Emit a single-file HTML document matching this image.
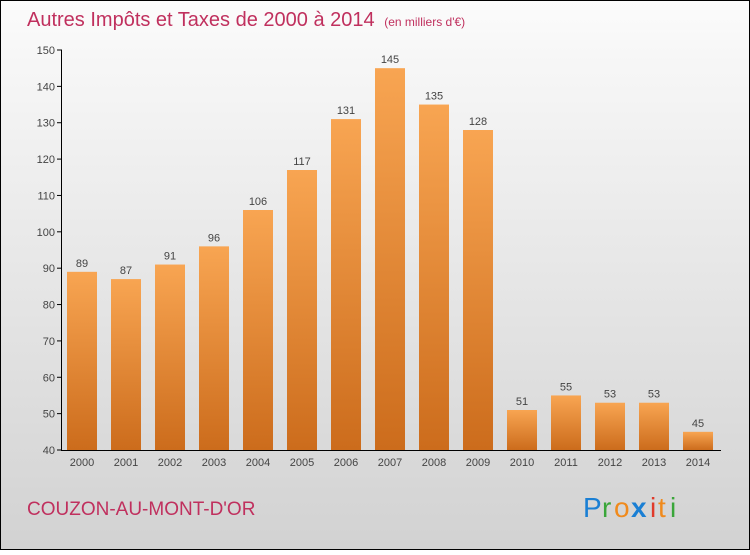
<!DOCTYPE html>
<html><head><meta charset="utf-8"><style>
body{margin:0;width:750px;height:550px;overflow:hidden;font-family:"Liberation Sans",sans-serif}
</style></head><body>
<svg width="750" height="550" xmlns="http://www.w3.org/2000/svg">
<defs>
<linearGradient id="bg" x1="0" y1="0" x2="0" y2="1"><stop offset="0" stop-color="#fbfbfb"/><stop offset="1" stop-color="#d2d2d2"/></linearGradient>
<linearGradient id="bar" x1="0" y1="0" x2="0" y2="1"><stop offset="0" stop-color="#f8a552"/><stop offset="1" stop-color="#cc6c1c"/></linearGradient>
</defs>
<rect x="0.5" y="0.5" width="749" height="549" fill="url(#bg)" stroke="#000"/>
<text x="27" y="26" font-size="20" fill="#c0305e">Autres Impôts et Taxes de 2000 à 2014 <tspan font-size="12" dx="4">(en milliers d'€)</tspan></text>
<g id="bars"></g><g id="axes"></g>
<text x="27" y="515" font-size="19" fill="#c0305e">COUZON-AU-MONT-D'OR</text>
<g font-size="28">
<text x="583" y="517" fill="#1a7fd4">P</text><text x="602" y="517" fill="#3aa63a">r</text><text x="614" y="517" fill="#f08a1c">o</text><text x="631" y="517" fill="#1a7fd4" font-weight="bold">x</text><text x="650" y="517" fill="#e03a2a">i</text><text x="658" y="517" fill="#f08a1c">t</text><text x="670" y="517" fill="#3aa63a">i</text>
</g>
</svg>
<script>
const years=["2000","2001","2002","2003","2004","2005","2006","2007","2008","2009","2010","2011","2012","2013","2014"];
const values=[89,87,91,96,106,117,131,145,135,128,51,55,53,53,45];
const yTicks=[40,50,60,70,80,90,100,110,120,130,140,150];
const NS="http://www.w3.org/2000/svg";
const y0=450,y1=50,vmin=40,vmax=150;
const yS=v=>y0-(v-vmin)/(vmax-vmin)*(y0-y1);
const xS=i=>82+44*i;
function mk(t,a,p){const e=document.createElementNS(NS,t);for(const k in a)e.setAttribute(k,a[k]);p.appendChild(e);return e;}
const bars=document.getElementById('bars'),axes=document.getElementById('axes');
yTicks.forEach(v=>{
 const t=mk('line',{x1:57,x2:62,y1:yS(v),y2:yS(v),stroke:'#000'},axes);
 
 
 const l=mk('text',{x:55,y:yS(v)+4,'text-anchor':'end','font-size':11,fill:'#444'},axes);
 l.textContent=v;
 
 
});
values.forEach((v,i)=>{
 const r=mk('rect',{x:xS(i)-15,y:yS(v),width:30,height:y0-yS(v),fill:'url(#bar)'},bars);
 
 
 const t=mk('text',{x:xS(i),y:yS(v)-5,'text-anchor':'middle','font-size':11,fill:'#444'},bars);
 t.textContent=v;
 
 
 const x=mk('text',{x:xS(i),y:466,'text-anchor':'middle','font-size':11,fill:'#444'},axes);
 x.textContent=years[i];
 
 
});
const ya=mk('line',{x1:61.5,x2:61.5,y1:50,y2:450,stroke:'#000'},axes);


const xa=mk('line',{x1:61,x2:721,y1:450.5,y2:450.5,stroke:'#000'},axes);


</script>
</body></html>
